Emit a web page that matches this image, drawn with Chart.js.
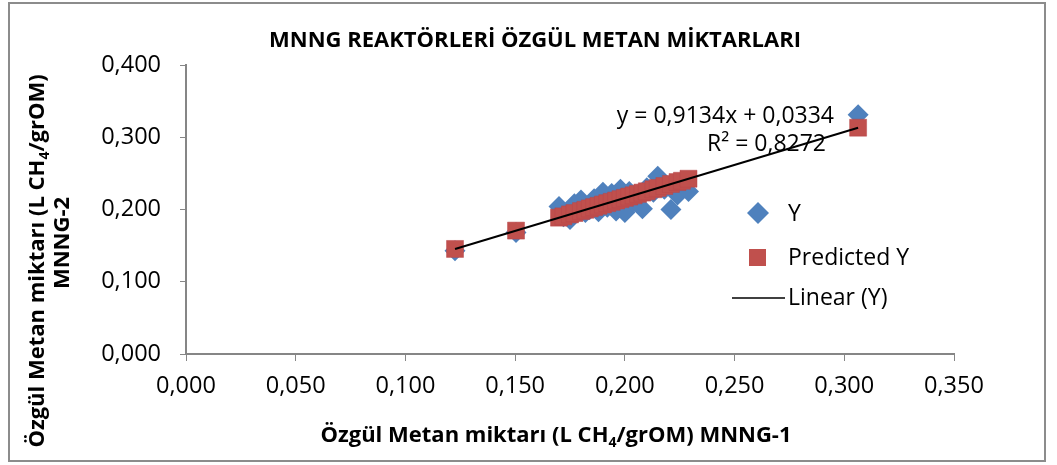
<!DOCTYPE html>
<html>
<head>
<meta charset="utf-8">
<script src="https://cdn.jsdelivr.net/npm/chart.js@4"></script>
<style>
  body { margin: 0; background: #fff; }
  canvas { display: block; }
</style>
</head>
<body>
<canvas id="scatterChart" width="1057" height="465"></canvas>
<script>
// --- DATA ---
const xValues = [0.1226, 0.1504, 0.170, 0.172, 0.175, 0.177, 0.180, 0.182, 0.184, 0.186, 0.188,
  0.190, 0.192, 0.194, 0.196, 0.198, 0.200, 0.202, 0.204, 0.206, 0.208, 0.210, 0.213, 0.215,
  0.218, 0.221, 0.224, 0.226, 0.229, 0.3063];
const yObserved = [0.143, 0.168, 0.204, 0.190, 0.186, 0.208, 0.213, 0.196, 0.200, 0.215, 0.197,
  0.224, 0.203, 0.222, 0.198, 0.228, 0.196, 0.225, 0.210, 0.218, 0.201, 0.230, 0.224, 0.246,
  0.228, 0.200, 0.220, 0.236, 0.225, 0.331];
const yPredicted = [0.1454, 0.1708, 0.1887, 0.1905, 0.1932, 0.1951, 0.1978, 0.1996, 0.2015, 0.2033, 0.2051,
  0.2069, 0.2088, 0.2106, 0.2124, 0.2143, 0.2161, 0.2179, 0.2197, 0.2216, 0.2234, 0.2252, 0.2280, 0.2298,
  0.2325, 0.2353, 0.2380, 0.2398, 0.2426, 0.3132];
const trendX = [0.1226, 0.3063];
const trendY = [0.1454, 0.3132];

const xTicks = { min: 0, max: 0.35, step: 0.05 };
const yTicks = { min: 0, max: 0.4, step: 0.1 };

const FONT = '"Open Sans", sans-serif';
const axisGrey = '#868686';

function toPoints(xs, ys) {
  return xs.map((x, i) => ({ x: x, y: ys[i] }));
}

// draws a line of text where some parts are subscripts, centred on (cx, cy)
function drawRich(ctx, parts, cx, cy, size) {
  const subSize = Math.round(size * 0.65);
  let total = 0;
  parts.forEach(p => {
    ctx.font = 'bold ' + (p.sub ? subSize : size) + 'px ' + FONT;
    p.w = ctx.measureText(p.t).width;
    total += p.w;
  });
  let x = cx - total / 2;
  ctx.textAlign = 'left';
  ctx.textBaseline = 'middle';
  parts.forEach(p => {
    ctx.font = 'bold ' + (p.sub ? subSize : size) + 'px ' + FONT;
    ctx.fillText(p.t, x, p.sub ? cy + size * 0.3 : cy);
    x += p.w;
  });
}

// titles, equation, legend and frame, drawn like the Excel chart
const extrasPlugin = {
  id: 'extras',
  beforeDraw(chart) {
    const ctx = chart.ctx;
    ctx.save();
    ctx.fillStyle = '#fff';
    ctx.fillRect(0, 0, chart.width, chart.height);
    ctx.restore();
  },
  afterDraw(chart) {
    const ctx = chart.ctx;
    ctx.save();
    ctx.fillStyle = '#000';

    // chart title
    ctx.font = 'bold 22px ' + FONT;
    ctx.textAlign = 'center';
    ctx.textBaseline = 'middle';
    ctx.fillText('MNNG REAKTÖRLERİ ÖZGÜL METAN MİKTARLARI', 535, 41);

    // x axis title
    drawRich(ctx, [
      { t: 'Özgül Metan miktarı (L CH' }, { t: '4', sub: true }, { t: '/grOM) MNNG-1' }
    ], 556, 436, 22);

    // y axis title (two lines, rotated)
    ctx.save();
    ctx.translate(38, 261);
    ctx.rotate(-Math.PI / 2);
    drawRich(ctx, [
      { t: 'Özgül Metan miktarı (L CH' }, { t: '4', sub: true }, { t: '/grOM)' }
    ], 0, 0, 22);
    ctx.restore();
    ctx.save();
    ctx.translate(63, 243);
    ctx.rotate(-Math.PI / 2);
    drawRich(ctx, [{ t: 'MNNG-2' }], 0, 0, 22);
    ctx.restore();

    // regression equation
    ctx.font = '23px ' + FONT;
    ctx.textAlign = 'right';
    ctx.textBaseline = 'middle';
    ctx.fillText('y = 0,9134x + 0,0334', 834, 116);
    ctx.fillText('R² = 0,8272', 826, 144);

    // legend
    const ds = chart.data.datasets;
    ctx.font = '23px ' + FONT;
    ctx.textAlign = 'left';
    ctx.fillStyle = ds[0].backgroundColor;
    ctx.beginPath();
    ctx.moveTo(758, 202); ctx.lineTo(769, 213); ctx.lineTo(758, 224); ctx.lineTo(747, 213);
    ctx.closePath();
    ctx.fill();
    ctx.fillStyle = ds[1].backgroundColor;
    ctx.fillRect(749, 249, 17, 17);
    ctx.strokeStyle = '#000';
    ctx.lineWidth = 1.5;
    ctx.beginPath();
    ctx.moveTo(732, 298); ctx.lineTo(785, 298);
    ctx.stroke();
    ctx.fillStyle = '#000';
    ctx.fillText(ds[0].label, 788, 214);
    ctx.fillText(ds[1].label, 788, 258);
    ctx.fillText(ds[2].label, 788, 298);

    // outer frame
    ctx.strokeStyle = '#8c8c8c';
    ctx.lineWidth = 2;
    ctx.strokeRect(9, 3, 1036, 458);
    ctx.restore();
  }
};

const fmt = v => v.toFixed(3).replace('.', ',');

new Chart(document.getElementById('scatterChart'), {
  type: 'scatter',
  data: {
    datasets: [
      {
        label: 'Y',
        data: toPoints(xValues, yObserved),
        backgroundColor: '#4F81BD',
        borderColor: '#4F81BD',
        pointStyle: 'rectRot',
        pointRadius: 10.5,
        borderWidth: 0,
        order: 3
      },
      {
        label: 'Predicted Y',
        data: toPoints(xValues, yPredicted),
        backgroundColor: '#C0504D',
        borderColor: '#B8474A',
        pointStyle: 'rect',
        pointRadius: 12,
        borderWidth: 0.5,
        order: 2
      },
      {
        type: 'line',
        label: 'Linear (Y)',
        data: toPoints(trendX, trendY),
        borderColor: '#000',
        borderWidth: 2,
        pointRadius: 0,
        fill: false,
        order: 1
      }
    ]
  },
  options: {
    responsive: false,
    animation: false,
    layout: { padding: { left: 0, top: 65, right: 103, bottom: 0 } },
    plugins: {
      legend: { display: false },
      tooltip: { enabled: false }
    },
    scales: {
      x: {
        type: 'linear',
        min: xTicks.min,
        max: xTicks.max,
        afterFit: s => { s.height = 111; },
        ticks: {
          stepSize: xTicks.step,
          color: '#000',
          padding: 11,
          maxRotation: 0,
          font: { family: FONT, size: 23.5 },
          callback: fmt
        },
        grid: { drawOnChartArea: false, drawTicks: true, tickLength: 7, color: axisGrey },
        border: { color: axisGrey, width: 2 }
      },
      y: {
        type: 'linear',
        min: yTicks.min,
        max: yTicks.max,
        afterFit: s => { s.width = 186; },
        ticks: {
          stepSize: yTicks.step,
          color: '#000',
          padding: 19,
          font: { family: FONT, size: 23.5 },
          callback: fmt
        },
        grid: { drawOnChartArea: false, drawTicks: true, tickLength: 6, color: axisGrey },
        border: { color: axisGrey, width: 2 }
      }
    }
  },
  plugins: [extrasPlugin]
});
</script>
</body>
</html>
